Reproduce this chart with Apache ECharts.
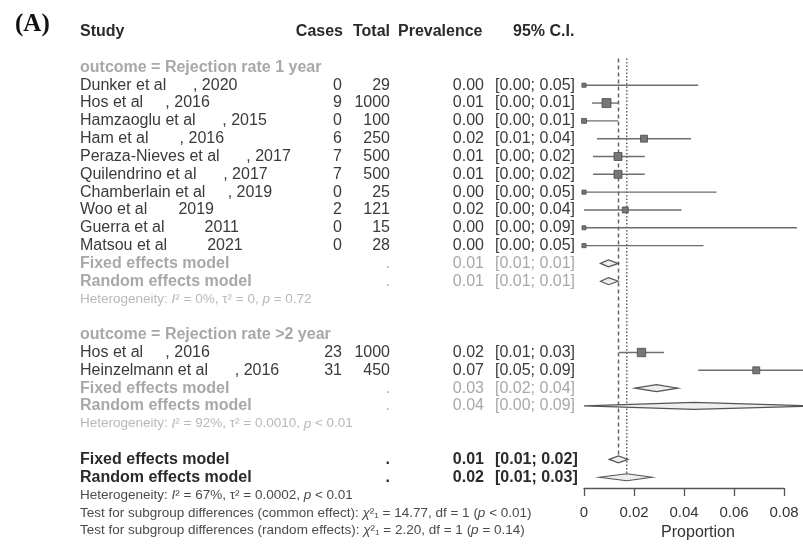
<!DOCTYPE html>
<html>
<head>
<meta charset="utf-8">
<script src="https://cdn.jsdelivr.net/npm/echarts@6/dist/echarts.min.js"></script>
<style>
  html, body { margin: 0; padding: 0; background: #fff; }
  #chart { width: 803px; height: 546px; }
</style>
</head>
<body>
<div id="chart"></div>
<script>
// ---- Subgroup 1: rejection rate at 1 year ----
const studies1 = [
  'Dunker et al      , 2020',
  'Hos et al     , 2016',
  'Hamzaoglu et al      , 2015',
  'Ham et al       , 2016',
  'Peraza-Nieves et al      , 2017',
  'Quilendrino et al      , 2017',
  'Chamberlain et al     , 2019',
  'Woo et al       2019',
  'Guerra et al         2011',
  'Matsou et al         2021'
];
const cases1  = [0, 9, 0, 6, 7, 7, 0, 2, 0, 0];
const totals1 = [29, 1000, 100, 250, 500, 500, 25, 121, 15, 28];
const est1    = [0, 0.0090, 0, 0.0240, 0.0136, 0.0136, 0, 0.0165, 0, 0];
const lower1  = [0, 0.0032, 0, 0.0052, 0.0036, 0.0036, 0, 0, 0, 0];
const upper1  = [0.0457, 0.0136, 0.0136, 0.0428, 0.0243, 0.0243, 0.0530, 0.0390, 0.0852, 0.0478];
const weights1 = [0.4, 30, 2, 12, 20, 20, 0.4, 6, 0.2, 0.4];

// ---- Subgroup 2: rejection rate beyond 2 years ----
const studies2 = ['Hos et al     , 2016', 'Heinzelmann et al      , 2016'];
const cases2   = [23, 31];
const totals2  = [1000, 450];
const est2     = [0.0230, 0.0689];
const lower2   = [0.0140, 0.0457];
const upper2   = [0.0320, 0.0876];
const weights2 = [24, 12];

// ---- Pooled estimates: [estimate, lower, upper] ----
const fixed1    = [0.0098, 0.0066, 0.0137];
const random1   = [0.0098, 0.0066, 0.0137];
const fixed2    = [0.0290, 0.0204, 0.0376];
const random2   = [0.0440, 0.0000, 0.0920];
const fixedAll  = [0.0138, 0.0101, 0.0176];
const randomAll = [0.0171, 0.0061, 0.0272];

// ---- Text lines ----
const outcomeLabels = ['outcome = Rejection rate 1 year', 'outcome = Rejection rate >2 year'];
const hetSub = [
  'Heterogeneity: {i|I}² = 0%, τ² = 0, {i|p} = 0.72',
  'Heterogeneity: {i|I}² = 92%, τ² = 0.0010, {i|p} < 0.01'
];
const hetAll = 'Heterogeneity: {i|I}² = 67%, τ² = 0.0002, {i|p} < 0.01';
const subgroupTests = [
  'Test for subgroup differences (common effect): {i|χ}²₁ = 14.77, df = 1 ({i|p} < 0.01)',
  'Test for subgroup differences (random effects): {i|χ}²₁ = 2.20, df = 1 ({i|p} = 0.14)'
];
const headers = ['Study', 'Cases', 'Total', 'Prevalence', '95% C.I.'];
const xTicks = [0, 0.02, 0.04, 0.06, 0.08];

// ---- Layout ----
const FONT = '"Liberation Sans", Arial, Helvetica, sans-serif';
const COL = { name: 80, cases: 342, total: 390, prev: 484, ci: 495 };
const C_DARK = '#2a2a2a', C_STUDY = '#3a3a3a', C_GREY = '#a8a8a8', C_HET = '#b8b8b8', C_NOTE = '#4a4a4a';
const SMALL = 13.5;

const f2 = v => v.toFixed(2);
const ciText = (lo, hi) => '[' + f2(lo) + '; ' + f2(hi) + ']';

function cell(x, text, align, color, size, weight) {
  return { x, text, align, color, size: size || 16, weight: weight || 'normal' };
}

// Build table rows (k = row index on the vertical axis) and plot marks
const tableRows = [];
const marks = [];   // [est, k, lo, hi, size, kind]
let k = 0;

tableRows.push({ k: -2, cells: [
  cell(COL.name, headers[0], 'left', C_DARK, 16, 'bold'),
  cell(343, headers[1], 'right', C_DARK, 16, 'bold'),
  cell(390, headers[2], 'right', C_DARK, 16, 'bold'),
  cell(398, headers[3], 'left', C_DARK, 16, 'bold'),
  cell(513, headers[4], 'left', C_DARK, 16, 'bold')
]});

function addGroup(label, names, cs, ts, es, los, his, ws, fx, rd, het) {
  tableRows.push({ k: k++, cells: [cell(COL.name, label, 'left', C_GREY, 16, 'bold')] });
  names.forEach((n, i) => {
    tableRows.push({ k, cells: [
      cell(COL.name, n, 'left', C_STUDY),
      cell(COL.cases, String(cs[i]), 'right', C_STUDY),
      cell(COL.total, String(ts[i]), 'right', C_STUDY),
      cell(COL.prev, f2(es[i]), 'right', C_STUDY),
      cell(COL.ci, ciText(los[i], his[i]), 'left', C_STUDY)
    ]});
    marks.push([es[i], k, los[i], his[i], 3.5 + Math.sqrt(ws[i]), 'study']);
    k++;
  });
  [['Fixed effects model', fx], ['Random effects model', rd]].forEach(m => {
    tableRows.push({ k, cells: [
      cell(COL.name, m[0], 'left', C_GREY, 16, 'bold'),
      cell(COL.total, '.', 'right', C_GREY),
      cell(COL.prev, f2(m[1][0]), 'right', C_GREY),
      cell(COL.ci, ciText(m[1][1], m[1][2]), 'left', C_GREY)
    ]});
    marks.push([m[1][0], k, m[1][1], m[1][2], 0, 'diamond']);
    k++;
  });
  tableRows.push({ k: k++, cells: [cell(COL.name, het, 'left', C_HET, SMALL)] });
  k++; // blank line
}

addGroup(outcomeLabels[0], studies1, cases1, totals1, est1, lower1, upper1, weights1, fixed1, random1, hetSub[0]);
addGroup(outcomeLabels[1], studies2, cases2, totals2, est2, lower2, upper2, weights2, fixed2, random2, hetSub[1]);

const kFixedAll = k;
[['Fixed effects model', fixedAll], ['Random effects model', randomAll]].forEach(m => {
  tableRows.push({ k, cells: [
    cell(COL.name, m[0], 'left', C_DARK, 16, 'bold'),
    cell(COL.total, '.', 'right', C_DARK, 16, 'bold'),
    cell(COL.prev, f2(m[1][0]), 'right', C_DARK, 16, 'bold'),
    cell(COL.ci, ciText(m[1][1], m[1][2]), 'left', C_DARK, 16, 'bold')
  ]});
  marks.push([m[1][0], k, m[1][1], m[1][2], 0, 'diamond']);
  k++;
});
tableRows.push({ k: k++, cells: [cell(COL.name, hetAll, 'left', C_NOTE, SMALL)] });
subgroupTests.forEach(t => tableRows.push({ k: k++, cells: [cell(COL.name, t, 'left', C_NOTE, SMALL)] }));

// Vertical reference lines at the pooled estimates: [x, kStart, kEnd, dash]
const refLines = [
  [fixedAll[0], -0.5, kFixedAll, 'dashed'],
  [randomAll[0], -0.5, kFixedAll + 1, 'dotted']
];

function richFor(c) {
  return {
    i: { fontStyle: 'italic', fontSize: c.size, fontFamily: FONT, fill: c.color, fontWeight: c.weight }
  };
}

const chart = echarts.init(document.getElementById('chart'), null, { renderer: 'canvas' });

chart.setOption({
  animation: false,
  backgroundColor: '#fff',
  grid: { left: 584, right: 19, top: 58.5, bottom: 53.5, containLabel: false },
  xAxis: {
    type: 'value', min: xTicks[0], max: xTicks[xTicks.length - 1], interval: xTicks[1] - xTicks[0],
    position: 'bottom',
    axisLine: { show: true, onZero: false, lineStyle: { color: '#555', width: 1.3 } },
    axisTick: { show: true, length: 8, lineStyle: { color: '#555', width: 1.3 } },
    splitLine: { show: false },
    axisLabel: {
      margin: 17, fontSize: 15, fontFamily: FONT, color: '#333',
      formatter: v => (v === 0 ? '0' : v.toFixed(2))
    },
    name: 'Proportion', nameLocation: 'middle', nameGap: 34,
    nameTextStyle: { fontSize: 16, fontFamily: FONT, color: '#333', padding: [0, 0, 0, 28] }
  },
  yAxis: { type: 'value', inverse: true, min: -0.5, max: 23.61, show: false },
  graphic: [{
    type: 'text', left: 15, top: 12,
    style: { text: '(A)', font: 'bold 25px "Liberation Serif", "Times New Roman", serif', fill: '#111' }
  }],
  series: [
    {
      // pooled-estimate reference lines
      type: 'custom', clip: false, silent: true, z: 1,
      data: refLines.map(r => [r[0], r[1], r[2]]),
      renderItem(params, api) {
        const r = refLines[params.dataIndex];
        const p0 = api.coord([r[0], r[1]]);
        const p1 = api.coord([r[0], r[2]]);
        return {
          type: 'line',
          shape: { x1: p0[0], y1: p0[1], x2: p1[0], y2: p1[1] },
          style: { stroke: '#666', lineWidth: 1.5, lineDash: r[3] === 'dashed' ? [4, 3] : [1.5, 2] }
        };
      }
    },
    {
      // study CIs, squares and pooled diamonds
      type: 'custom', clip: false, silent: true, z: 2,
      data: marks.map(m => [m[0], m[1], m[2], m[3]]),
      encode: { x: [0, 2, 3], y: 1 },
      renderItem(params, api) {
        const m = marks[params.dataIndex];
        const c = api.coord([m[0], m[1]]);
        const lo = api.coord([m[2], m[1]]);
        const hi = api.coord([m[3], m[1]]);
        if (m[5] === 'diamond') {
          const h = 3.5;
          return {
            type: 'polygon',
            shape: { points: [[lo[0], c[1]], [c[0], c[1] - h], [hi[0], c[1]], [c[0], c[1] + h]] },
            style: { fill: '#eeeeee', stroke: '#555', lineWidth: 1.2 }
          };
        }
        const s = m[4];
        return {
          type: 'group',
          children: [
            { type: 'line', shape: { x1: lo[0], y1: c[1], x2: hi[0], y2: c[1] },
              style: { stroke: '#6e6e6e', lineWidth: 1.4 } },
            { type: 'rect', shape: { x: c[0] - s / 2, y: c[1] - s / 2, width: s, height: s },
              style: { fill: '#777', stroke: '#4a4a4a', lineWidth: 0.8 } }
          ]
        };
      }
    },
    {
      // table text columns
      type: 'custom', clip: false, silent: true, z: 3,
      data: tableRows.map(r => [0, r.k]),
      renderItem(params, api) {
        const row = tableRows[params.dataIndex];
        const y = api.coord([0, row.k])[1];
        return {
          type: 'group',
          children: row.cells.map(c => ({
            type: 'text',
            style: {
              x: c.x, y, text: c.text, align: c.align, verticalAlign: 'middle',
              fontSize: c.size, fontFamily: FONT, fontWeight: c.weight, fill: c.color,
              rich: richFor(c)
            }
          }))
        };
      }
    }
  ]
});
</script>
</body>
</html>
